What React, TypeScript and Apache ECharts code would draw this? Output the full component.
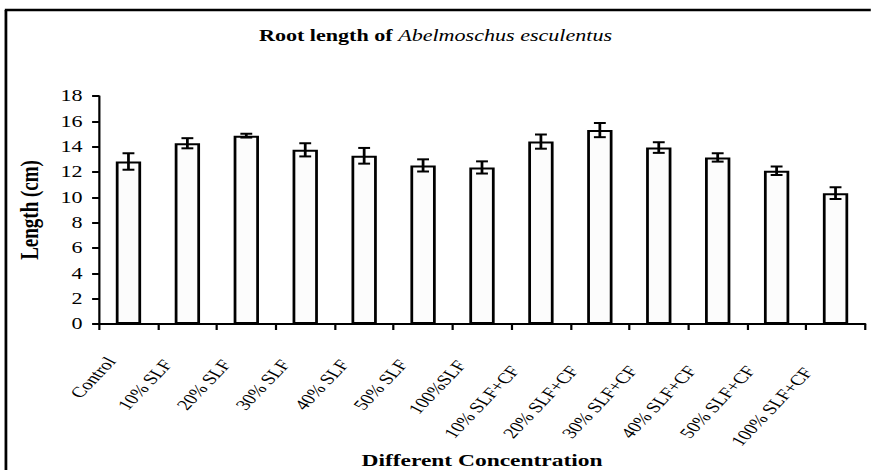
import React, { useEffect, useRef } from "react";
import * as echarts from "echarts";

const categories = [
  "Control",
  "10% SLF",
  "20% SLF",
  "30% SLF",
  "40% SLF",
  "50% SLF",
  "100%SLF",
  "10% SLF+CF",
  "20% SLF+CF",
  "30% SLF+CF",
  "40% SLF+CF",
  "50% SLF+CF",
  "100% SLF+CF",
];
const meanLength = [12.83, 14.27, 14.87, 13.75, 13.28, 12.52, 12.36, 14.4, 15.31, 13.93, 13.15, 12.1, 10.33];
const errLength = [0.65, 0.4, 0.15, 0.52, 0.62, 0.48, 0.48, 0.56, 0.56, 0.42, 0.33, 0.33, 0.47];

const W = 871;
const H = 470;
const S = 1.38;
const W0 = W / S;
const FONT = "'Liberation Serif', 'Times New Roman', serif";
const LABEL_SIZE = 15;

function measure(text: string): number {
  const c = document.createElement("canvas").getContext("2d");
  if (!c) return text.length * 7;
  c.font = `${LABEL_SIZE}px ${FONT}`;
  return c.measureText(text).width;
}

export default function App() {
  const ref = useRef<HTMLDivElement>(null);
  useEffect(() => {
    if (!ref.current) return;
    const chart = echarts.init(ref.current, null, { renderer: "svg", width: W0, height: H });
    const xData = categories.map((c) => ({
      value: c,
      textStyle: { padding: [0, 8.7 + 0.285 * measure(c), 0, 0] },
    }));
    chart.setOption({
      animation: false,
      backgroundColor: "#fff",
      title: {
        text: "{b|Root length of }{i|Abelmoschus esculentus}",
        left: "center",
        top: 23,
        textStyle: {
          rich: {
            b: { fontFamily: FONT, fontWeight: "bold", fontSize: 16, color: "#000" },
            i: { fontFamily: FONT, fontStyle: "italic", fontWeight: "normal", fontSize: 16, color: "#000" },
          },
        },
      },
      graphic: [
        {
          type: "line",
          shape: { x1: 4.3, y1: 10, x2: 4.3, y2: 600 },
          style: { stroke: "#000", lineWidth: 2 },
          silent: true,
        },
        {
          type: "line",
          shape: { x1: 3.5, y1: 10, x2: W0 + 5, y2: 10 },
          style: { stroke: "#000", lineWidth: 2.5 },
          silent: true,
        },
      ],
      grid: { left: 99 / S, right: W0 - 865 / S, top: 96, bottom: 144, containLabel: false },
      xAxis: {
        type: "category",
        data: xData,
        boundaryGap: true,
        axisLine: { lineStyle: { color: "#000", width: 2 } },
        axisTick: { show: true, length: 6, lineStyle: { color: "#000", width: 1.6 } },
        axisLabel: {
          interval: 0,
          rotate: 55,
          margin: 17,
          fontFamily: FONT,
          fontSize: LABEL_SIZE,
          color: "#000",
        },
        name: "Different Concentration",
        nameLocation: "middle",
        nameGap: 124,
        nameTextStyle: { fontFamily: FONT, fontWeight: "bold", fontSize: 17, color: "#000" },
      },
      yAxis: {
        type: "value",
        min: 0,
        max: 18,
        interval: 2,
        splitLine: { show: false },
        axisLine: { show: true, lineStyle: { color: "#000", width: 1.6 } },
        axisTick: { show: true, length: 5, lineStyle: { color: "#000", width: 2 } },
        axisLabel: { margin: 12, fontFamily: FONT, fontSize: 16, color: "#000" },
        name: "Length (cm)",
        nameLocation: "middle",
        nameGap: 41,
        nameRotate: 90,
        nameTextStyle: { fontFamily: FONT, fontWeight: "bold", fontSize: 19, color: "#000" },
      },
      series: [
        {
          type: "bar",
          data: meanLength,
          barWidth: "43%",
          itemStyle: { color: "#fcfcfc", borderColor: "#000", borderWidth: 2 },
          z: 2,
        },
        {
          type: "custom",
          z: 5,
          data: categories.map((c, i) => [i, meanLength[i], errLength[i]]),
          renderItem: (params: any, api: any) => {
            const i = api.value(0);
            const m = api.value(1);
            const e = api.value(2);
            const top = api.coord([i, m + e]);
            const bot = api.coord([i, m - e]);
            const hw = 4.3;
            const style = { stroke: "#000", lineWidth: 2 };
            return {
              type: "group",
              children: [
                { type: "line", shape: { x1: top[0], y1: top[1], x2: bot[0], y2: bot[1] }, style },
                { type: "line", shape: { x1: top[0] - hw, y1: top[1], x2: top[0] + hw, y2: top[1] }, style },
                { type: "line", shape: { x1: bot[0] - hw, y1: bot[1], x2: bot[0] + hw, y2: bot[1] }, style },
              ],
            };
          },
        },
      ],
    });
    return () => chart.dispose();
  }, []);
  return (
    <div
      style={{
        position: "fixed",
        left: 0,
        top: 0,
        width: W,
        height: H,
        overflow: "hidden",
        background: "#fff",
      }}
    >
      <div
        ref={ref}
        style={{ width: W0, height: H, transform: `scaleX(${S})`, transformOrigin: "0 0" }}
      />
    </div>
  );
}
